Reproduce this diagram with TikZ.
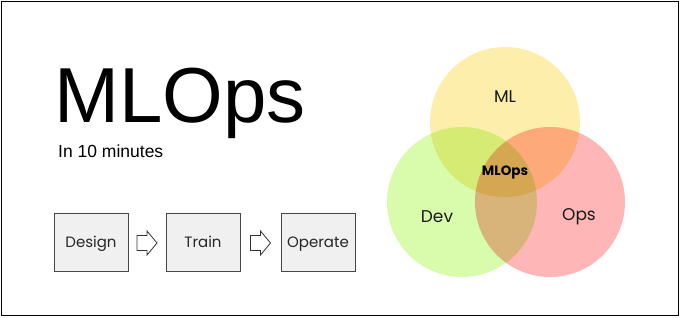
\documentclass[tikz,border=0pt]{standalone}
\usepackage{fontspec}
\setmainfont{Liberation Sans}
\newfontfamily\geo{Poppins}
\usetikzlibrary{calc}
\definecolor{mlc}{RGB}{253,238,172}
\definecolor{devc}{RGB}{216,252,172}
\definecolor{opsc}{RGB}{255,182,182}
\definecolor{boxfill}{RGB}{240,240,240}
\definecolor{boxline}{RGB}{70,70,70}
\tikzset{
  stagebox/.style={draw=boxline, line width=1pt, fill=boxfill, minimum width=74pt, minimum height=58pt, inner sep=0pt, font=\geo\fontsize{15}{16}\selectfont, text=black!85},
  stagetext/.style={font=\geo\fontsize{15}{16}\selectfont, text=black!85, inner sep=0pt},
  blockarrow/.style={draw=black!80, line width=0.8pt, fill=white, line join=miter},
  venn/.style={circle, minimum size=150pt, inner sep=0pt},
  venntext/.style={font=\geo\fontsize{17}{19}\selectfont, text=black!90},
}
\newcommand{\blockarrowpath}[1]{%
  \draw[blockarrow] ($(#1)+(-10,-7.5)$) -- ($(#1)+(0,-7.5)$) -- ($(#1)+(0,-12)$) -- ($(#1)+(10,0)$) -- ($(#1)+(0,12)$) -- ($(#1)+(0,7.5)$) -- ($(#1)+(-10,7.5)$) -- cycle;}
\begin{document}
\begin{tikzpicture}[x=1pt,y=-1pt]
\useasboundingbox (0,0) rectangle (680,317);
\draw[line width=1.3pt] (1.5,1.5) rectangle (678.3,315.3);
% title
\node[anchor=base west, inner sep=0pt, font=\fontsize{78}{88}\selectfont] (title) at (54,122) {MLOps};
\node[anchor=base west, inner sep=0pt, font=\fontsize{17.5}{20}\selectfont] (sub) at (58,157) {In 10 minutes};
% stages
\node[stagebox] (design) at (91,242) {};
\node[stagebox] (train) at (203,242) {};
\node[stagebox] (operate) at (318,242) {};
\node[stagetext, anchor=base] (designt) at ($(design.center)+(0,5.5)$) {Design};
\node[stagetext, anchor=base] (traint) at ($(train.center)+(0,5.5)$) {Train};
\node[stagetext, anchor=base] (operatet) at ($(operate.center)+(0,5.5)$) {Operate};
\coordinate (a1) at ($(design.east)!0.5!(train.west)+(0,1)$);
\coordinate (a2) at ($(train.east)!0.5!(operate.west)+(0,1)$);
\blockarrowpath{a1}
\blockarrowpath{a2}
% venn
\begin{scope}[transparency group]
\begin{scope}[blend mode=multiply]
\node[venn, fill=mlc] (ml) at (505,122) {};
\node[venn, fill=devc] (dev) at (462,202) {};
\node[venn, fill=opsc] (ops) at (550,202) {};
\end{scope}
\end{scope}
\node[venntext] (mlt) at (505,97) {ML};
\node[venntext] (devt) at (437,217) {Dev};
\node[venntext] (opst) at (579,217) {Ops};
\node[font=\geo\bfseries\fontsize{13.5}{15}\selectfont] (core) at (505,172) {MLOps};
\end{tikzpicture}
\end{document}
